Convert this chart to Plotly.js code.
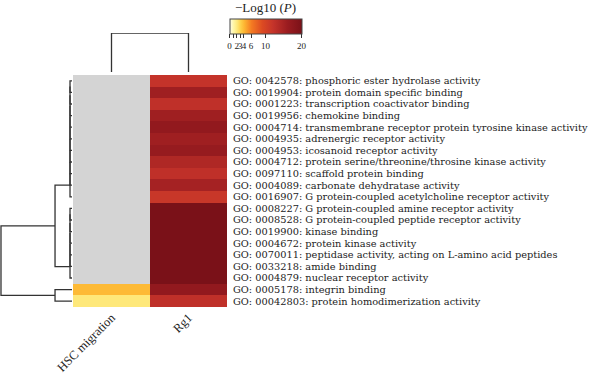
<!DOCTYPE html>
<html>
<head>
<meta charset="utf-8">
<script src="https://cdn.plot.ly/plotly-3.0.1.min.js"></script>
<style>html,body{margin:0;padding:0;background:#fff;}#chart{width:600px;height:378px;}</style>
</head>
<body>
<div id="chart"></div>
<script>
// ---------- data ----------
const columnNames = ['HSC migration', 'Rg1'];
const goTerms = [
  'GO: 0042578: phosphoric ester hydrolase activity',
  'GO: 0019904: protein domain specific binding',
  'GO: 0001223: transcription coactivator binding',
  'GO: 0019956: chemokine binding',
  'GO: 0004714: transmembrane receptor protein tyrosine kinase activity',
  'GO: 0004935: adrenergic receptor activity',
  'GO: 0004953: icosanoid receptor activity',
  'GO: 0004712: protein serine/threonine/throsine kinase activity',
  'GO: 0097110: scaffold protein binding',
  'GO: 0004089: carbonate dehydratase activity',
  'GO: 0016907: G protein-coupled acetylcholine receptor activity',
  'GO: 0008227: G protein-coupled amine receptor activity',
  'GO: 0008528: G protein-coupled peptide receptor activity',
  'GO: 0019900: kinase binding',
  'GO: 0004672: protein kinase activity',
  'GO: 0070011: peptidase activity, acting on L-amino acid peptides',
  'GO: 0033218: amide binding',
  'GO: 0004879: nuclear receptor activity',
  'GO: 0005178: integrin binding',
  'GO: 00042803: protein homodimerization activity'
];
// -log10(P); null = not enriched (grey)
const hscMigration = [null,null,null,null,null,null,null,null,null,null,
                      null,null,null,null,null,null,null,null,3.8,2.0];
const rg1 = [12, 15.5, 12.5, 15.5, 17, 15.5, 16.5, 14, 12.5, 15,
             11.5, 20, 20, 20, 20, 20, 20, 20, 17, 12.5];
const colorbarTicks = [0, 1, 2, 3, 4, 6, 10, 20];
const colorbarTickText = ['0', '', '2', '3', '4', '6', '10', '20'];
// hierarchical clustering linkage (child a, child b, merge height); leaves are 0..n-1
const rowLinkage = [
  [0,1,0.028],[20,2,0.028],[21,3,0.028],[22,4,0.028],[23,5,0.028],
  [24,6,0.028],[25,7,0.028],[26,8,0.028],[27,9,0.028],[28,10,0.028],
  [11,12,0.028],[30,13,0.028],[31,14,0.028],[32,15,0.028],[33,16,0.028],[34,17,0.028],
  [18,19,0.239],
  [29,35,0.239],
  [37,36,1.0]
];
const colLinkage = [[0,1,1.0]];

// ---------- helpers ----------
function dendroSegments(linkage, nLeaves) {
  const pos = [], hgt = [];
  for (let i = 0; i < nLeaves; i++) { pos[i] = i; hgt[i] = 0; }
  const h = [], p = [];
  linkage.forEach((m, k) => {
    const [a, b, ht] = m;
    h.push(hgt[a], ht, ht, hgt[b], null);
    p.push(pos[a], pos[a], pos[b], pos[b], null);
    pos[nLeaves + k] = (pos[a] + pos[b]) / 2;
    hgt[nLeaves + k] = ht;
  });
  return {h, p};
}

const rowIdx = goTerms.map((_, i) => i);
const colIdx = columnNames.map((_, i) => i);
const zVals = rowIdx.map(i => [hscMigration[i], rg1[i]]);
const zMask = rowIdx.map(i => [hscMigration[i] == null ? 1 : null, rg1[i] == null ? 1 : null]);

const colorscale = [
  [0, '#fffde6'], [0.05, '#fff6a6'], [0.1, '#fee87a'], [0.15, '#fecf48'],
  [0.2, '#fdb532'], [0.3, '#f47a22'], [0.45, '#dc4a22'], [0.6, '#c4332a'],
  [0.8, '#9a1c20'], [1, '#7a1118']
];
const serif = 'Liberation Serif, Times New Roman, serif';
const labelFont = 'DejaVu Serif, serif';

const rowD = dendroSegments(rowLinkage, goTerms.length);
const colD = dendroSegments(colLinkage, columnNames.length);

const traces = [
  {
    type: 'heatmap', x: colIdx, y: rowIdx, z: zMask,
    colorscale: [[0, '#d4d4d4'], [1, '#d4d4d4']], showscale: false,
    xaxis: 'x', yaxis: 'y', hoverinfo: 'skip'
  },
  {
    type: 'heatmap', x: colIdx, y: rowIdx, z: zVals,
    zmin: 0, zmax: 20, colorscale: colorscale,
    xaxis: 'x', yaxis: 'y', hoverinfo: 'skip',
    colorbar: {
      orientation: 'h', x: 0.4425, xanchor: 'center', y: 0.989, yanchor: 'top',
      len: 72, lenmode: 'pixels', thickness: 15, xpad: 0, ypad: 0,
      outlinewidth: 1, outlinecolor: '#444',
      ticks: 'outside', ticklen: 4, tickwidth: 1, tickcolor: '#333',
      tickvals: colorbarTicks, ticktext: colorbarTickText, tickangle: 0,
      tickfont: {family: serif, size: 9, color: '#222'},
      title: {text: '\u2212Log10 (<i>P</i>)', side: 'top', font: {family: serif, size: 13, color: '#222'}}
    }
  },
  {
    type: 'scatter', mode: 'lines', x: rowD.h, y: rowD.p,
    xaxis: 'x2', yaxis: 'y', line: {color: '#333', width: 1.3},
    hoverinfo: 'skip', showlegend: false
  },
  {
    type: 'scatter', mode: 'lines', x: colD.p, y: colD.h,
    xaxis: 'x', yaxis: 'y2', line: {color: '#333', width: 1.3},
    hoverinfo: 'skip', showlegend: false
  }
];

const layout = {
  width: 600, height: 378,
  margin: {l: 0, r: 0, t: 0, b: 0},
  paper_bgcolor: '#fff', plot_bgcolor: 'rgba(0,0,0,0)',
  showlegend: false,
  xaxis: {
    domain: [73/600, 227/600], range: [-0.5, 1.5], anchor: 'y',
    tickvals: colIdx, ticktext: columnNames, tickangle: -45,
    showgrid: false, zeroline: false, showline: false, ticks: '',
    tickfont: {family: serif, size: 12.5, color: '#222'}
  },
  yaxis: {
    domain: [71/378, 303/378], range: [19.5, -0.5], anchor: 'x', side: 'right',
    tickvals: rowIdx, ticktext: goTerms, ticklabelstandoff: 5,
    showgrid: false, zeroline: false, showline: false, ticks: '',
    tickfont: {family: labelFont, size: 9.8, color: '#222'}
  },
  xaxis2: {domain: [0, 0.12], range: [1.014, 0], anchor: 'y', visible: false},
  yaxis2: {domain: [306/378, 345/378], range: [0, 1], anchor: 'x', visible: false}
};

Plotly.newPlot('chart', traces, layout, {staticPlot: true, displayModeBar: false});
</script>
</body>
</html>
